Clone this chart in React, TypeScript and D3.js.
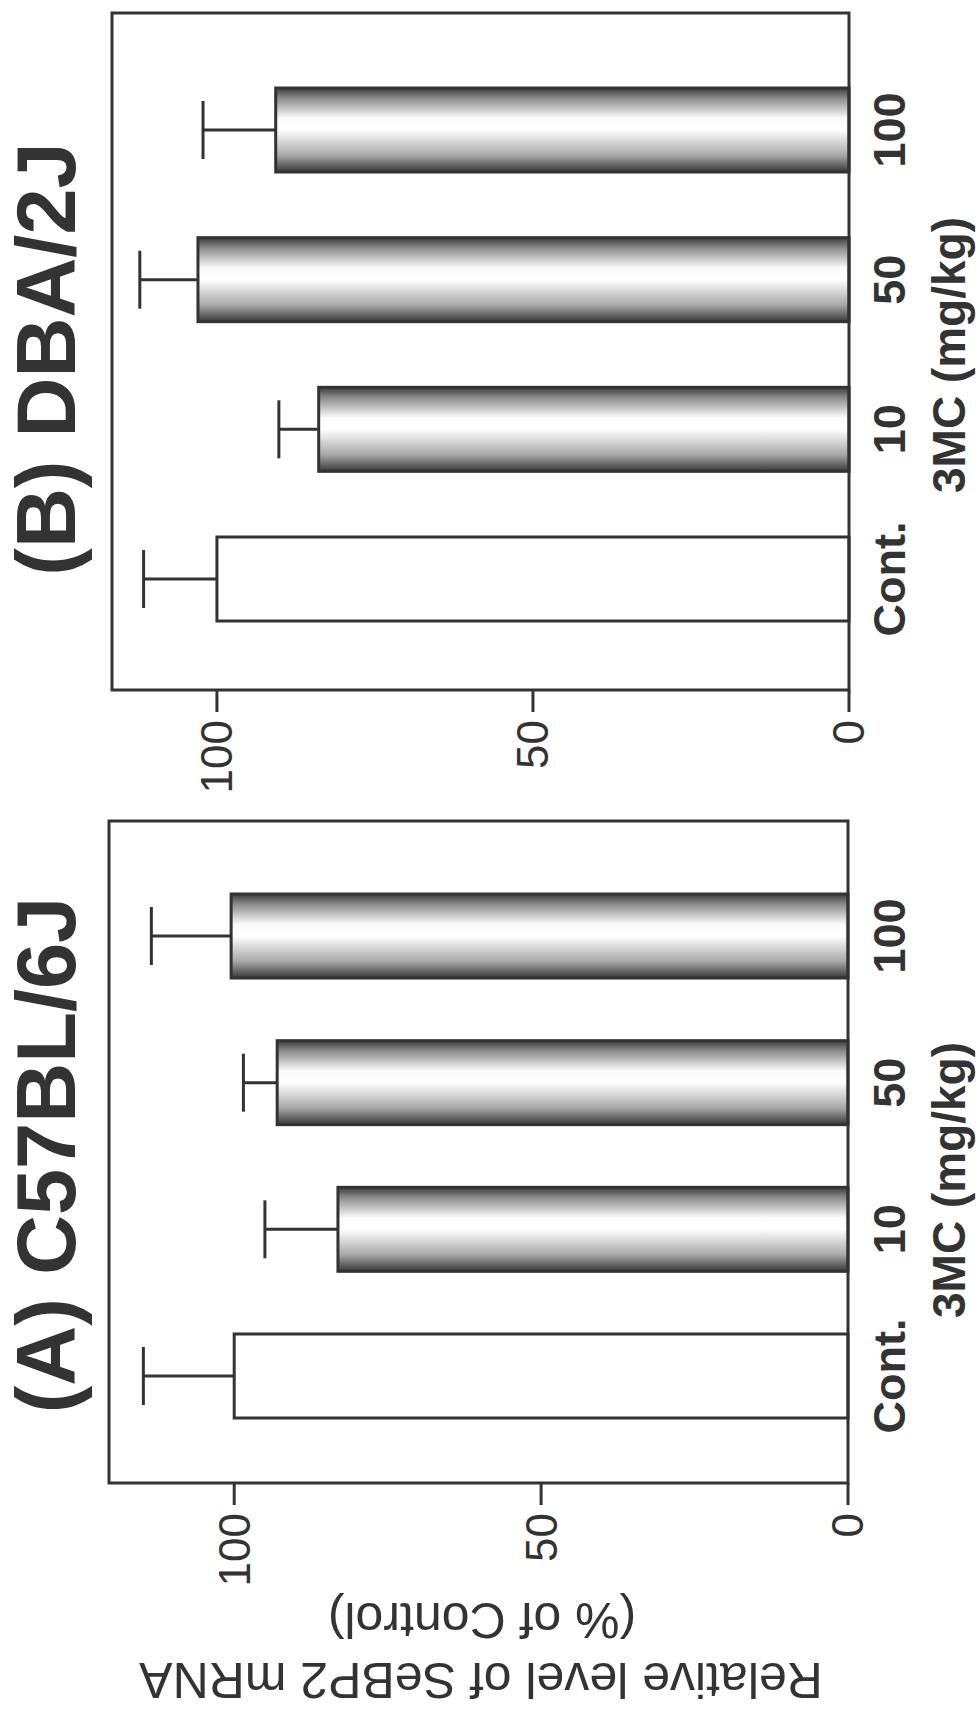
import * as d3 from "d3";

// dose groups, bottom to top in the picture
const categories = ["Cont.", "10", "50", "100"];
const valueTicks = [0, 50, 100];

// (A) C57BL/6J
const meanA = [100, 83.1, 93.0, 100.5];
const seA = [14.8, 11.9, 5.5, 13.0];

// (B) DBA/2J
const meanB = [100, 83.9, 103.0, 90.7];
const seB = [11.6, 6.3, 9.2, 11.5];

const W = 980;
const H = 1728;
const INK = "#333";
const FONT = "'Liberation Sans', Arial, Helvetica, sans-serif";

type PanelProps = {
  id: string;
  title: string;
  means: number[];
  errs: number[];
  vMax: number;
  xZero: number;
  xLeft: number;
  boxTop: number;
  boxBottom: number;
  catTop: number;
  catBottom: number;
  titleY: number;
  axisTitleY: number;
};

const Panel = (p: PanelProps) => {
  // value axis runs right -> left (figure is turned a quarter turn)
  const x = d3.scaleLinear().domain([0, p.vMax]).range([p.xZero, p.xLeft]);
  const y = d3.scalePoint<string>().domain(categories).range([p.catBottom, p.catTop]);
  const barW = 84;
  const cap = 58;

  return (
    <g>
      {categories.map((c, i) => {
        const cy = y(c) as number;
        const x0 = x(0);
        const x1 = x(p.means[i]);
        const xe = x(p.means[i] + p.errs[i]);
        return (
          <g key={c}>
            <line x1={x1} x2={xe} y1={cy} y2={cy} stroke={INK} strokeWidth={3} />
            <line x1={xe} x2={xe} y1={cy - cap / 2} y2={cy + cap / 2} stroke={INK} strokeWidth={3} />
            <rect
              x={x1}
              y={cy - barW / 2}
              width={x0 - x1}
              height={barW}
              fill={i === 0 ? "#fff" : "url(#shade)"}
              stroke={INK}
              strokeWidth={3}
            />
            <text
              transform={`translate(905,${cy}) rotate(-90)`}
              textAnchor="middle"
              fontFamily={FONT}
              fontWeight="bold"
              fontSize={45}
              fill={INK}
            >
              {c}
            </text>
          </g>
        );
      })}

      {/* frame */}
      <rect
        x={p.xLeft}
        y={p.boxTop}
        width={p.xZero - p.xLeft}
        height={p.boxBottom - p.boxTop}
        fill="none"
        stroke={INK}
        strokeWidth={3}
      />

      {valueTicks.map((t) => (
        <g key={t} transform={`translate(${x(t)},${p.boxBottom})`}>
          <line y1={0} y2={22} stroke={INK} strokeWidth={3} />
          <text
            transform="translate(0,30) rotate(-90)"
            textAnchor="end"
            dy="0.35em"
            fontFamily={FONT}
            fontSize={44}
            fill={INK}
          >
            {t}
          </text>
        </g>
      ))}

      <text
        transform={`translate(75,${p.titleY}) rotate(-90)`}
        textAnchor="middle"
        fontFamily={FONT}
        fontWeight="bold"
        fontSize={83}
        fill={INK}
      >
        {p.title}
      </text>
      <text
        transform={`translate(965,${p.axisTitleY}) rotate(-90)`}
        textAnchor="middle"
        fontFamily={FONT}
        fontWeight="bold"
        fontSize={46}
        fill={INK}
      >
        3MC (mg/kg)
      </text>
    </g>
  );
};

export default function App() {
  return (
    <svg
      width={W}
      height={H}
      viewBox={`0 0 ${W} ${H}`}
      style={{ position: "absolute", left: 0, top: 0, background: "#fff" }}
    >
      <defs>
        <linearGradient id="shade" x1="0" y1="0" x2="0" y2="1">
          <stop offset="0" stopColor="#3c3c3c" />
          <stop offset="0.12" stopColor="#8a8a8a" />
          <stop offset="0.36" stopColor="#fafafa" />
          <stop offset="0.5" stopColor="#ffffff" />
          <stop offset="0.8" stopColor="#a8a8a8" />
          <stop offset="1" stopColor="#383838" />
        </linearGradient>
      </defs>
      <rect width={W} height={H} fill="#fff" />

      <Panel
        id="B"
        title="(B) DBA/2J"
        means={meanB}
        errs={seB}
        vMax={116.6}
        xZero={849}
        xLeft={112}
        boxTop={13}
        boxBottom={690}
        catTop={130}
        catBottom={579}
        titleY={359}
        axisTitleY={355}
      />
      <Panel
        id="A"
        title="(A) C57BL/6J"
        means={meanA}
        errs={seA}
        vMax={120.4}
        xZero={848}
        xLeft={109}
        boxTop={821}
        boxBottom={1483}
        catTop={936}
        catBottom={1376}
        titleY={1155}
        axisTitleY={1180}
      />

      <g fontFamily={FONT} fontSize={50} fill={INK} textAnchor="middle">
        <text transform="translate(481,1663) rotate(180)">Relative level of SeBP2 mRNA</text>
        <text transform="translate(482,1603) rotate(180)">(% of Control)</text>
      </g>
    </svg>
  );
}
